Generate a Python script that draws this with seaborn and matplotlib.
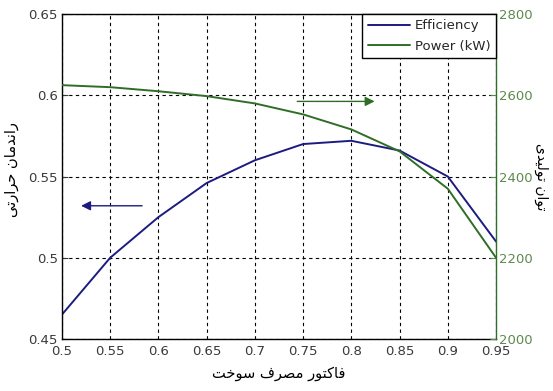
import numpy as np
import pandas as pd
import matplotlib
matplotlib.use("Agg")
import matplotlib.pyplot as plt
import seaborn as sns

# ---- data ----
fuel_factor = [0.5, 0.55, 0.6, 0.65, 0.7, 0.75, 0.8, 0.85, 0.9, 0.95]
efficiency = [0.465, 0.500, 0.525, 0.546, 0.560, 0.570, 0.572, 0.566, 0.550, 0.510]
power_kw = [2625, 2620, 2610, 2598, 2580, 2553, 2516, 2462, 2370, 2200]
x_ticks = [0.5, 0.55, 0.6, 0.65, 0.7, 0.75, 0.8, 0.85, 0.9, 0.95]
eff_ticks = [0.45, 0.5, 0.55, 0.6, 0.65]
eff_tick_labels = ["0.45", "0.5", "0.55", "0.6", "0.65"]
pow_ticks = [2000, 2200, 2400, 2600, 2800]
x_label = "فاکتور مصرف سوخت"
y_left_label = "راندمان حرارتی"
y_right_label = "توان تولیدی"
legend_labels = ["Efficiency", "Power (kW)"]

# ---- minimal Arabic/Persian shaping for display ----
FORMS = {  # isolated, final, initial, medial
    'ا': ('\uFE8D', '\uFE8E', None, None),
    'د': ('\uFEA9', '\uFEAA', None, None),
    'ر': ('\uFEAD', '\uFEAE', None, None),
    'و': ('\uFEED', '\uFEEE', None, None),
    'ت': ('\uFE95', '\uFE96', '\uFE97', '\uFE98'),
    'ح': ('\uFEA1', '\uFEA2', '\uFEA3', '\uFEA4'),
    'خ': ('\uFEA5', '\uFEA6', '\uFEA7', '\uFEA8'),
    'س': ('\uFEB1', '\uFEB2', '\uFEB3', '\uFEB4'),
    'ص': ('\uFEB9', '\uFEBA', '\uFEBB', '\uFEBC'),
    'ف': ('\uFED1', '\uFED2', '\uFED3', '\uFED4'),
    'ل': ('\uFEDD', '\uFEDE', '\uFEDF', '\uFEE0'),
    'م': ('\uFEE1', '\uFEE2', '\uFEE3', '\uFEE4'),
    'ن': ('\uFEE5', '\uFEE6', '\uFEE7', '\uFEE8'),
    'ک': ('\uFB8E', '\uFB8F', '\uFB90', '\uFB91'),
    'ی': ('\uFBFC', '\uFBFD', '\uFBFE', '\uFBFF'),
}


def shape(text):
    out = []
    n = len(text)
    for i, ch in enumerate(text):
        if ch not in FORMS:
            out.append(ch)
            continue
        prev = text[i - 1] if i > 0 else None
        nxt = text[i + 1] if i < n - 1 else None
        join_prev = prev in FORMS and FORMS[prev][2] is not None
        join_next = nxt in FORMS and FORMS[ch][2] is not None
        iso, fin, ini, med = FORMS[ch]
        if join_prev and join_next:
            out.append(med)
        elif join_prev:
            out.append(fin)
        elif join_next:
            out.append(ini)
        else:
            out.append(iso)
    return ''.join(out)[::-1]


sns.set_style("white")
plt.rcParams['font.family'] = ['DejaVu Sans']

BLUE = "#1c1c80"
GREEN = "#2f6e26"
TICK_GREEN = "#5c8a4c"

df = pd.DataFrame({"x": fuel_factor, "eff": efficiency, "pow": power_kw})

fig = plt.figure(figsize=(5.53, 3.91), dpi=100)
ax = fig.add_axes([0.112, 0.133, 0.785, 0.831])
ax2 = ax.twinx()

sns.lineplot(data=df, x="x", y="eff", ax=ax, color=BLUE, lw=1.4, label=legend_labels[0], legend=False)
sns.lineplot(data=df, x="x", y="pow", ax=ax2, color=GREEN, lw=1.4, label=legend_labels[1], legend=False)

ax.set_xlim(0.5, 0.95)
ax.set_ylim(0.45, 0.65)
ax2.set_ylim(2000, 2800)
ax.set_xticks(x_ticks)
ax.set_xticklabels([f"{v:g}" for v in x_ticks])
ax.set_yticks(eff_ticks)
ax.set_yticklabels(eff_tick_labels)
ax2.set_yticks(pow_ticks)

ax.grid(True, color="black", linestyle=(0, (3, 3)), linewidth=0.8)
ax2.grid(False)

ax.tick_params(axis="both", direction="in", length=4, labelsize=9.5, colors="#3a3a3a", pad=3)
ax.tick_params(axis="x", pad=4)
ax2.tick_params(axis="y", direction="in", length=4, labelsize=9.5, colors=TICK_GREEN, pad=2)

for s in ["left", "top", "bottom"]:
    ax.spines[s].set_color("black")
    ax.spines[s].set_linewidth(1.0)
ax2.spines["right"].set_color(GREEN)
ax2.spines["right"].set_linewidth(1.0)
for s in ["left", "top", "bottom"]:
    ax2.spines[s].set_visible(False)
ax.spines["right"].set_visible(False)

ax.set_xlabel(shape(x_label), fontsize=10.5, color="black", labelpad=6)
ax.set_ylabel(shape(y_left_label), fontsize=10.5, color="black")
ax2.set_ylabel(shape(y_right_label), fontsize=10, color="black", rotation=-90)
ax.yaxis.set_label_coords(-0.098, 0.52)
ax2.yaxis.set_label_coords(1.121, 0.5)

# arrows
ax.annotate("", xy=(0.517, 0.532), xytext=(0.586, 0.532),
            arrowprops=dict(arrowstyle="-|>", color=BLUE, lw=1.0, mutation_scale=14))
ax2.annotate("", xy=(0.827, 2585), xytext=(0.741, 2585),
             arrowprops=dict(arrowstyle="-|>", color=GREEN, lw=1.0, mutation_scale=14))

h1, l1 = ax.get_legend_handles_labels()
h2, l2 = ax2.get_legend_handles_labels()
leg = ax2.legend(h1 + h2, l1 + l2, loc="upper right", borderaxespad=0, fancybox=False,
                 edgecolor="black", framealpha=1, fontsize=9.5, handlelength=3.2,
                 borderpad=0.4, labelspacing=0.55, handletextpad=0.4)
leg.get_frame().set_linewidth(1.0)

fig.savefig("out.png", dpi=100)
